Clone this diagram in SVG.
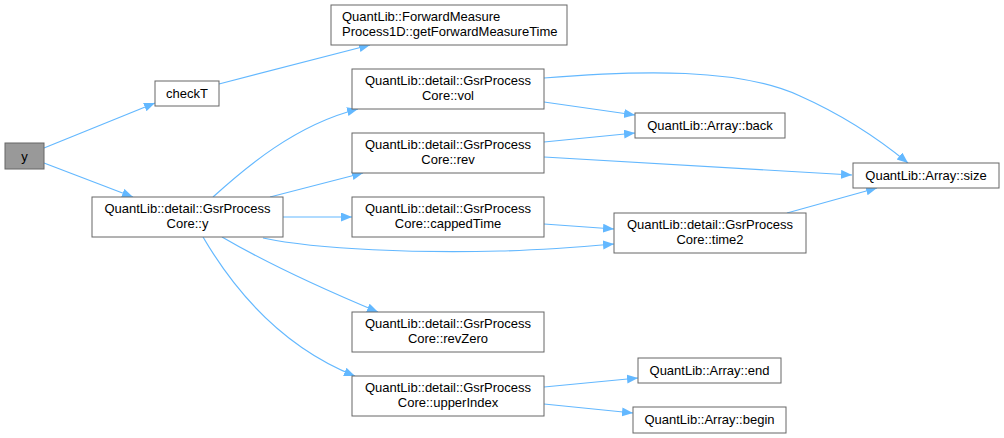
<svg xmlns="http://www.w3.org/2000/svg" width="1004" height="438" viewBox="0 0 1004 438">
<defs>
<marker id="ah" markerUnits="userSpaceOnUse" markerWidth="12" markerHeight="10" refX="11" refY="4.5" orient="auto">
<path d="M0,0 L11,4.5 L0,9 z" fill="#63b8ff"/>
</marker>
<style>
.n rect{fill:#fff;stroke:#666;stroke-width:1}
.n text{font-family:"Liberation Sans",Arial,sans-serif;font-size:13px;fill:#000;text-anchor:middle}
#edges path{fill:none;stroke:#63b8ff;stroke-width:1.2;marker-end:url(#ah)}
</style>
</defs>
<rect width="1004" height="438" fill="#fff"/>
<g id="edges">
<path d="M44,148 L155,103"/>
<path d="M44,163 L133,197"/>
<path d="M219,84 L370,45"/>
<path d="M213,197 C245,168 295,125 358,109"/>
<path d="M270,197 L363,173"/>
<path d="M283,217 L352,217"/>
<path d="M263,238 C320,250 420,253 500,251 C545,250 580,247 614,244"/>
<path d="M222,237 C270,265 330,292 378,312"/>
<path d="M203,237 C240,300 290,350 355,376"/>
<path d="M544,102 L635,115"/>
<path d="M544,78 C640,70 740,68 800,96 C845,116 880,140 908,163"/>
<path d="M544,142 L635,133"/>
<path d="M544,157 L852,175"/>
<path d="M544,224 L614,229"/>
<path d="M787,213 L877,188"/>
<path d="M544,387 L638,378"/>
<path d="M544,404 L633,413"/>
</g>
<g id="n_y" class="n"><rect x="5" y="143" width="39" height="26" style="fill:#999"/><text x="24.5" y="160.5">y</text></g>
<g id="n_checkT" class="n"><rect x="155" y="81" width="64" height="25"/><text x="187" y="98">checkT</text></g>
<g id="n_gsry" class="n"><rect x="92" y="197" width="191" height="40"/><text x="187.5" y="213">QuantLib::detail::GsrProcess</text><text x="187.5" y="228">Core::y</text></g>
<g id="n_fm" class="n"><rect x="331" y="5" width="236" height="40"/><text x="342" y="21" style="text-anchor:start">QuantLib::ForwardMeasure</text><text x="342" y="36" style="text-anchor:start">Process1D::getForwardMeasureTime</text></g>
<g id="n_vol" class="n"><rect x="352" y="69" width="192" height="40"/><text x="448" y="85">QuantLib::detail::GsrProcess</text><text x="448" y="100">Core::vol</text></g>
<g id="n_rev" class="n"><rect x="352" y="133" width="192" height="40"/><text x="448" y="149">QuantLib::detail::GsrProcess</text><text x="448" y="164">Core::rev</text></g>
<g id="n_capped" class="n"><rect x="352" y="197" width="192" height="40"/><text x="448" y="213">QuantLib::detail::GsrProcess</text><text x="448" y="228">Core::cappedTime</text></g>
<g id="n_revzero" class="n"><rect x="352" y="312" width="192" height="40"/><text x="448" y="328">QuantLib::detail::GsrProcess</text><text x="448" y="343">Core::revZero</text></g>
<g id="n_upper" class="n"><rect x="352" y="376" width="192" height="40"/><text x="448" y="392">QuantLib::detail::GsrProcess</text><text x="448" y="407">Core::upperIndex</text></g>
<g id="n_time2" class="n"><rect x="614" y="213" width="192" height="40"/><text x="710" y="229">QuantLib::detail::GsrProcess</text><text x="710" y="244">Core::time2</text></g>
<g id="n_back" class="n"><rect x="635" y="113" width="150" height="25"/><text x="710" y="130">QuantLib::Array::back</text></g>
<g id="n_size" class="n"><rect x="853" y="163" width="146" height="25"/><text x="926" y="180">QuantLib::Array::size</text></g>
<g id="n_end" class="n"><rect x="638" y="358" width="143" height="25"/><text x="709.5" y="375">QuantLib::Array::end</text></g>
<g id="n_begin" class="n"><rect x="633" y="407" width="153" height="26"/><text x="709.5" y="424">QuantLib::Array::begin</text></g>
</svg>
